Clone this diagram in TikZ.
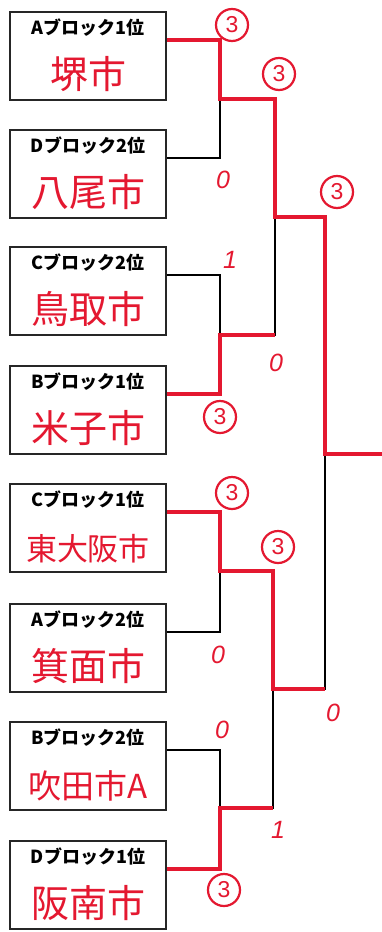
\documentclass[tikz,border=0pt]{standalone}
\usepackage{fontspec}
\newfontfamily\jp{Noto Sans CJK JP}
\newfontfamily\hand{Liberation Sans}
\definecolor{pen}{RGB}{228,24,48}

\tikzset{
  team/.style={draw=black!85,line width=2.6pt,fill=white,minimum width=156pt,
    minimum height=88pt,inner sep=0pt,text height=64pt,text depth=0pt,
    text=pen,font=\jp\fontsize{38}{38}\selectfont},
  blk/.style={anchor=north,inner sep=3pt,text=black,yshift=-5pt,
    font=\jp\bfseries\fontsize{18}{18}\selectfont},
  bracket/.style={line width=1.7pt},
  win/.style={pen,line width=4pt},
  won/.style={circle,draw=pen,line width=2.2pt,minimum size=32pt,inner sep=0pt,
    text=pen,font=\hand\fontsize{23}{23}\selectfont},
  lost/.style={text=pen,font=\hand\itshape\fontsize{25}{25}\selectfont},
}

\begin{document}
\begin{tikzpicture}[x=1pt,y=-1pt]
\useasboundingbox[fill=white] (0,0) rectangle (382,932);

% teams
\begin{scope}[every node/.style={team}]
  \node (t1) at (88,56)  {堺市};
  \node (t2) at (88,174) {八尾市};
  \node (t3) at (88,291) {鳥取市};
  \node (t4) at (88,410) {米子市};
  \node (t5) at (88,528) [font=\jp\fontsize{31}{31}\selectfont] {東大阪市};
  \node (t6) at (88,648) {箕面市};
  \node (t7) at (88,766) [font=\jp\fontsize{33}{33}\selectfont] {吹田市A};
  \node (t8) at (88,885) {阪南市};
\end{scope}

\begin{scope}[every node/.style={blk}]
  \node (h1) at (t1.north) {Aブロック1位};
  \node (h2) at (t2.north) {Dブロック2位};
  \node (h3) at (t3.north) {Cブロック2位};
  \node (h4) at (t4.north) {Bブロック1位};
  \node (h5) at (t5.north) {Cブロック1位};
  \node (h6) at (t6.north) {Aブロック2位};
  \node (h7) at (t7.north) {Bブロック2位};
  \node (h8) at (t8.north) {Dブロック1位};
\end{scope}

\coordinate (o1) at ([yshift=16pt]t1.east);
\coordinate (o2) at ([yshift=16pt]t2.east);
\coordinate (o3) at ([yshift=16pt]t3.east);
\coordinate (o4) at ([yshift=16pt]t4.east);
\coordinate (o5) at ([yshift=16pt]t5.east);
\coordinate (o6) at ([yshift=16pt]t6.east);
\coordinate (o7) at ([yshift=16pt]t7.east);
\coordinate (o8) at ([yshift=16pt]t8.east);

\coordinate (m1)  at (220,99);
\coordinate (m2)  at (220,335);
\coordinate (m3)  at (220,571);
\coordinate (m4)  at (220,808);
\coordinate (s1)  at (275,217);
\coordinate (s2)  at (273,689);
\coordinate (f)   at (325,454);
\coordinate (end) at (382,454);

% bracket
\draw[bracket] (o1) -| (m1) |- (o2);
\draw[bracket] (o3) -| (m2) |- (o4);
\draw[bracket] (o5) -| (m3) |- (o6);
\draw[bracket] (o7) -| (m4) |- (o8);
\draw[bracket] (m1) -| (s1) |- (m2);
\draw[bracket] (m3) -| (s2) |- (m4);
\draw[bracket] (s1) -| (f) |- (s2);
\draw[bracket] (f) -- (end);

% winners
\draw[win] (o1) -| (m1) -| (s1) -| (f) -- (end);
\draw[win] (o4) -| (m2) -- (s1 |- m2);
\draw[win] (o5) -| (m3) -| (s2) -- (f |- s2);
\draw[win] (o8) -| (m4) -- (s2 |- m4);

% scores
\begin{scope}[every node/.style={won}]
  \node (w1) at (232,25)  {3};
  \node (w2) at (279,74)  {3};
  \node (w3) at (337,192) {3};
  \node (w4) at (220,417) {3};
  \node (w5) at (232,493) {3};
  \node (w6) at (278,547) {3};
  \node (w7) at (224,890) {3};
\end{scope}

\begin{scope}[every node/.style={lost}]
  \node (l1) at (223,180) {0};
  \node (l2) at (230,260) {1};
  \node (l3) at (276,363) {0};
  \node (l4) at (218,655) {0};
  \node (l5) at (333,713) {0};
  \node (l6) at (222,730) {0};
  \node (l7) at (278,830) {1};
\end{scope}

\end{tikzpicture}
\end{document}
